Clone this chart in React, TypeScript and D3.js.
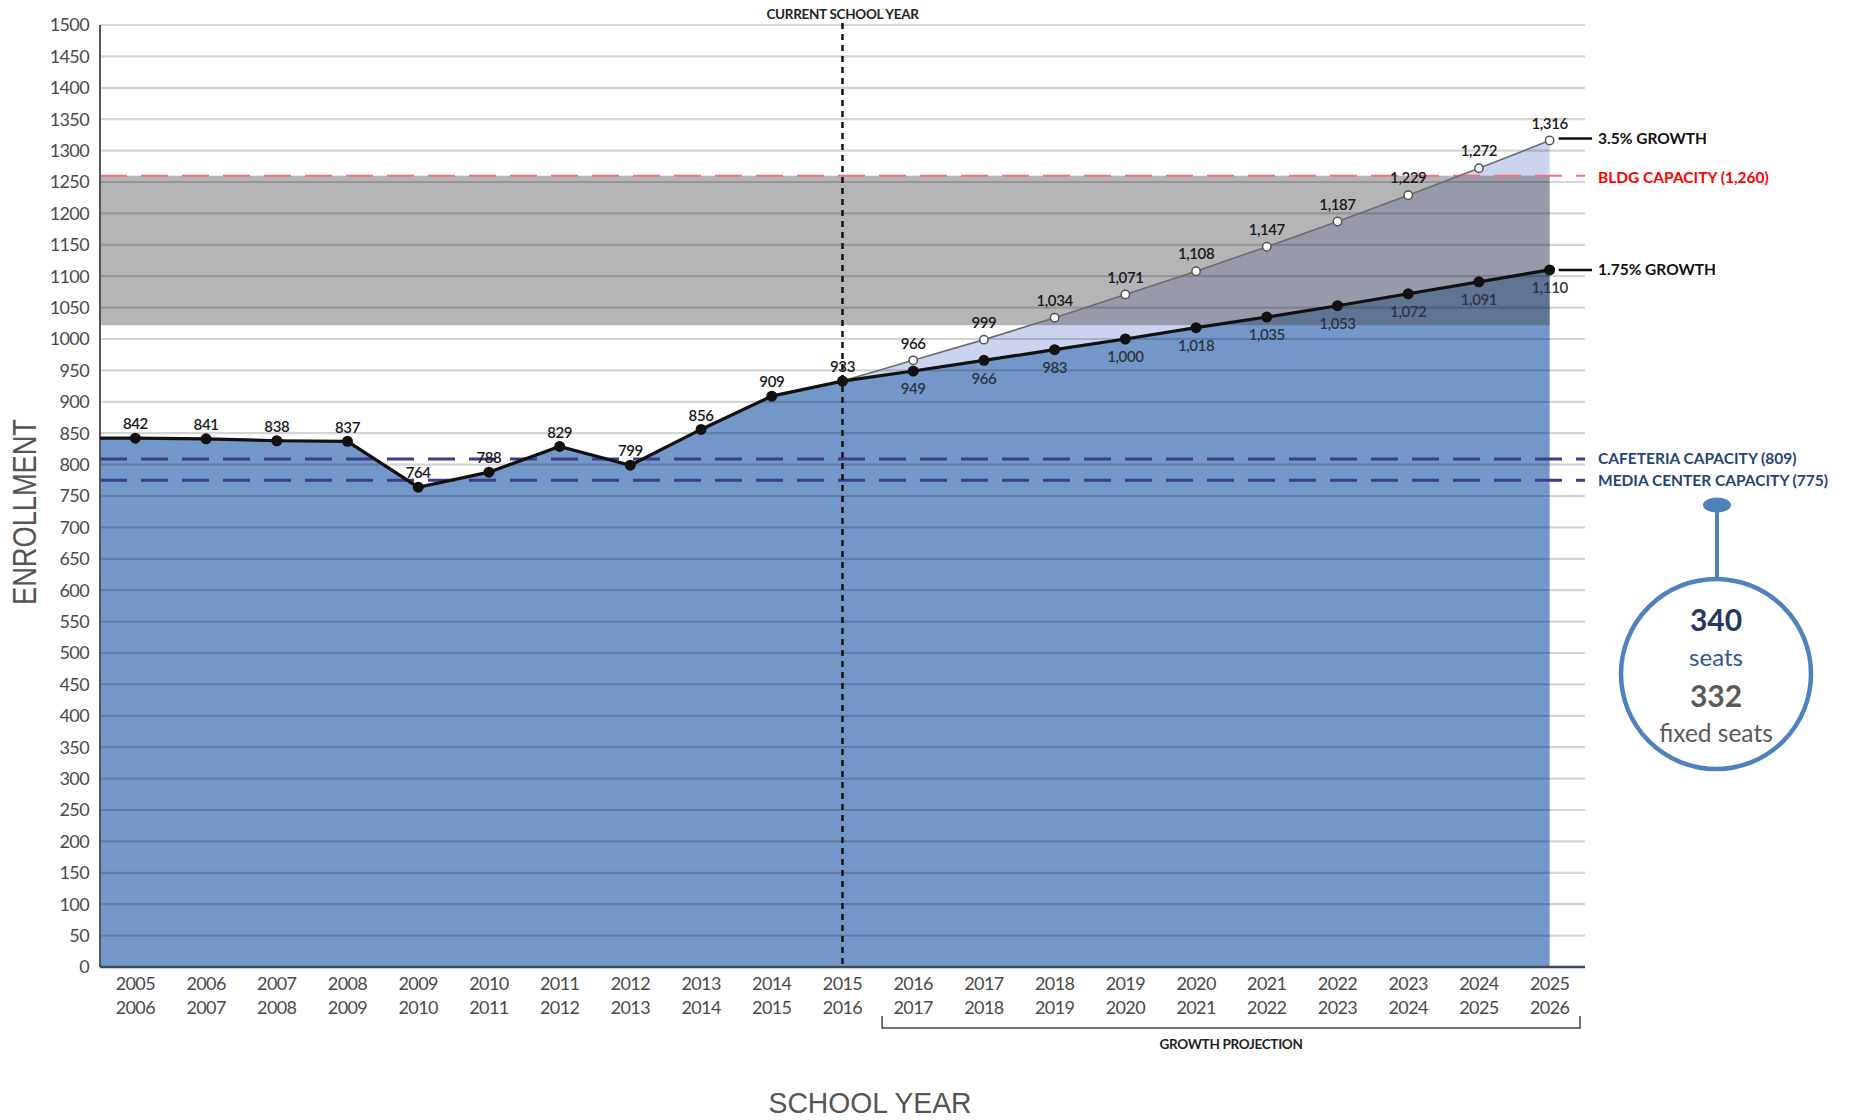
import React from 'react';
import * as d3 from 'd3';

// school years (start / end of each year)
const startYears = ['2005', '2006', '2007', '2008', '2009', '2010', '2011', '2012', '2013', '2014', '2015',
  '2016', '2017', '2018', '2019', '2020', '2021', '2022', '2023', '2024', '2025'];
const endYears = ['2006', '2007', '2008', '2009', '2010', '2011', '2012', '2013', '2014', '2015', '2016',
  '2017', '2018', '2019', '2020', '2021', '2022', '2023', '2024', '2025', '2026'];

// enrollment up to the current school year (2015-2016)
const actualEnrollment = [842, 841, 838, 837, 764, 788, 829, 799, 856, 909, 933];
// projections 2016-2017 .. 2025-2026
const growthLow = [949, 966, 983, 1000, 1018, 1035, 1053, 1072, 1091, 1110];   // 1.75%
const growthHigh = [966, 999, 1034, 1071, 1108, 1147, 1187, 1229, 1272, 1316]; // 3.5%

const bldgCapacity = 1260;
const bandFloor = 1022;
const cafeteriaCapacity = 809;
const mediaCenterCapacity = 775;

const W = 1853;
const H = 1120;
const left = 100;
const right = 1585;
const top = 25;
const bottom = 967;

const tickFont = 'Lato, "Open Sans", sans-serif';
const noteFont = 'Lato, "Open Sans", sans-serif';
const fmt = d3.format(',');

const App: React.FC = () => {
  const x = d3.scalePoint<string>().domain(startYears).range([left, right]).padding(0.5);
  const y = d3.scaleLinear().domain([0, 1500]).range([bottom, top]);
  const yTicks = y.ticks(30);

  const mainValues = actualEnrollment.concat(growthLow);
  const cur = actualEnrollment.length - 1;
  const lastYear = startYears[startYears.length - 1];
  const xLast = x(lastYear)!;
  const step = x.step();

  type P = { px: number; v: number };
  const mainPts: P[] = [{ px: left, v: mainValues[0] }].concat(
    mainValues.map((v, i) => ({ px: x(startYears[i])!, v }))
  );

  const area = d3.area<P>().x(d => d.px).y0(y(0)).y1(d => y(d.v));
  const line = d3.line<P>().x(d => d.px).y(d => y(d.v));

  const projYears = startYears.slice(cur);
  const highValues = [actualEnrollment[cur]].concat(growthHigh);
  const lowValues = [actualEnrollment[cur]].concat(growthLow);
  const spread = projYears.map((yr, i) => ({ px: x(yr)!, lo: lowValues[i], hi: highValues[i] }));
  const spreadArea = d3.area<{ px: number; lo: number; hi: number }>()
    .x(d => d.px).y0(d => y(d.lo)).y1(d => y(d.hi));
  const highPts: P[] = projYears.map((yr, i) => ({ px: x(yr)!, v: highValues[i] }));

  const xCur = x(startYears[cur])!;
  const bracketL = x(startYears[cur + 1])! - step * 0.44;
  const bracketR = xLast + step * 0.43;
  const noteX = 1598;
  const high = growthHigh[growthHigh.length - 1];
  const low = growthLow[growthLow.length - 1];

  return (
    <svg width={W} height={H} style={{ position: 'absolute', left: 0, top: 0, display: 'block', background: '#fff' }}>
      {/* main enrollment area */}
      <path d={area(mainPts)!} fill="#7497c9" />
      {/* spread between the two projections */}
      <path d={spreadArea(spread)!} fill="#ccd3ee" />
      {/* capacity band */}
      <rect x={left} y={y(bldgCapacity)} width={xLast - left} height={y(bandFloor) - y(bldgCapacity)}
        fill="rgba(65,65,65,0.39)" />

      {/* grid */}
      {yTicks.filter(t => t > 0).map(t => (
        <line key={t} x1={left} x2={right} y1={y(t)} y2={y(t)} stroke="rgba(0,0,0,0.17)" strokeWidth={2.2} />
      ))}

      {/* capacity lines */}
      <line x1={left} x2={right} y1={y(bldgCapacity)} y2={y(bldgCapacity)} stroke="#f07272" strokeWidth={2}
        strokeDasharray="27 14" />
      {[cafeteriaCapacity, mediaCenterCapacity].map(c => (
        <line key={c} x1={left} x2={right} y1={y(c)} y2={y(c)} stroke="#3b3d8e" strokeWidth={3}
          strokeDasharray="27 14" />
      ))}

      {/* axes */}
      <line x1={left} x2={left} y1={top} y2={bottom} stroke="#555" strokeWidth={2} />
      <line x1={left} x2={right} y1={bottom} y2={bottom} stroke="#3d4a5e" strokeWidth={2.5} />
      {yTicks.map(t => (
        <text key={t} x={left - 11} y={y(t)} dy="0.35em" textAnchor="end" fontFamily={tickFont}
          fontSize={18} fill="#4a4a4a" letterSpacing={-0.6}>{t}</text>
      ))}
      {startYears.map((yr, i) => (
        <text key={yr} x={x(yr)!} textAnchor="middle" fontFamily={tickFont} fontSize={18} fill="#4a4a4a"
          letterSpacing={-0.6}>
          <tspan x={x(yr)!} y={990}>{yr}</tspan>
          <tspan x={x(yr)!} y={1014}>{endYears[i]}</tspan>
        </text>
      ))}

      {/* current school year marker */}
      <line x1={xCur} x2={xCur} y1={top - 2} y2={bottom} stroke="#111" strokeWidth={2.5} strokeDasharray="6 5" />
      <text x={xCur} y={14} dy="0.35em" textAnchor="middle" fontFamily={noteFont} fontWeight={700} fontSize={13.5}
        fill="#222" letterSpacing={-0.3}>CURRENT SCHOOL YEAR</text>

      {/* 3.5% projection */}
      <path d={line(highPts)!} fill="none" stroke="#6d6d6d" strokeWidth={1.6} />
      {/* actual + 1.75% projection */}
      <path d={line(mainPts)!} fill="none" stroke="#111" strokeWidth={3.2} />
      {mainValues.map((v, i) => (
        <circle key={i} cx={x(startYears[i])!} cy={y(v)} r={5.5} fill="#111" />
      ))}
      {highPts.slice(1).map((d, i) => (
        <circle key={i} cx={d.px} cy={y(d.v)} r={4.2} fill="#fff" stroke="#555" strokeWidth={1.5} />
      ))}

      {/* value labels */}
      {actualEnrollment.map((v, i) => (
        <text key={i} x={x(startYears[i])!} y={y(v) - 14} dy="0.35em" textAnchor="middle" fontFamily={tickFont}
          fontWeight={600} fontSize={15} fill="#1a1a1a" letterSpacing={-0.4}>{fmt(v)}</text>
      ))}
      {growthLow.map((v, i) => (
        <text key={i} x={x(startYears[cur + 1 + i])!} y={y(v) + 18} dy="0.35em" textAnchor="middle"
          fontFamily={tickFont} fontWeight={600} fontSize={15} fill="#2e3442" letterSpacing={-0.4}>{fmt(v)}</text>
      ))}
      {growthHigh.map((v, i) => (
        <text key={i} x={x(startYears[cur + 1 + i])!} y={y(v) - 17} dy="0.35em" textAnchor="middle"
          fontFamily={tickFont} fontWeight={600} fontSize={15} fill="#1a1a1a" letterSpacing={-0.4}>{fmt(v)}</text>
      ))}

      {/* growth projection bracket */}
      <path d={`M${bracketL},${1016}V${1028}H${bracketR}V${1016}`} fill="none" stroke="#444" strokeWidth={1.5} />
      <text x={(bracketL + bracketR) / 2} y={1044} dy="0.35em" textAnchor="middle" fontFamily={noteFont}
        fontWeight={700} fontSize={13.5} fill="#222" letterSpacing={-0.3}>GROWTH PROJECTION</text>

      {/* right-hand notes */}
      <line x1={xLast + 9} x2={1592} y1={y(high) - 2} y2={y(high) - 2} stroke="#111" strokeWidth={2.5} />
      <text x={noteX} y={y(high) - 2} dy="0.35em" fontFamily={noteFont} fontWeight={700}
        fontSize={15.5} fill="#111">3.5% GROWTH</text>
      <text x={noteX} y={y(bldgCapacity) + 2} dy="0.35em" fontFamily={noteFont} fontWeight={700} fontSize={15.5}
        fill="#ff0000">BLDG CAPACITY (1,260)</text>
      <line x1={xLast + 9} x2={1592} y1={y(low)} y2={y(low)} stroke="#111" strokeWidth={2.5} />
      <text x={noteX} y={y(low)} dy="0.35em" fontFamily={noteFont} fontWeight={700}
        fontSize={15.5} fill="#111">1.75% GROWTH</text>
      <text x={noteX} y={y(cafeteriaCapacity)} dy="0.35em" fontFamily={noteFont} fontWeight={700} fontSize={15.5}
        fill="#23437a">CAFETERIA CAPACITY (809)</text>
      <text x={noteX} y={y(mediaCenterCapacity)} dy="0.35em" fontFamily={noteFont} fontWeight={700} fontSize={15.5}
        fill="#23437a">MEDIA CENTER CAPACITY (775)</text>

      {/* seats callout */}
      <ellipse cx={1717} cy={505} rx={14} ry={7.5} fill="#4f81bd" />
      <line x1={1717} x2={1717} y1={505} y2={580} stroke="#4f81bd" strokeWidth={4} />
      <circle cx={1716} cy={674} r={95} fill="#fff" stroke="#4f81bd" strokeWidth={4.5} />
      <text x={1716} y={620} dy="0.35em" textAnchor="middle" fontFamily={noteFont} fontWeight={700} fontSize={30}
        fill="#1f3864">340</text>
      <text x={1716} y={658} dy="0.35em" textAnchor="middle" fontFamily={noteFont} fontSize={24}
        fill="#2f5597">seats</text>
      <text x={1716} y={696} dy="0.35em" textAnchor="middle" fontFamily={noteFont} fontWeight={700} fontSize={30}
        fill="#595959">332</text>
      <text x={1716} y={733} dy="0.35em" textAnchor="middle" fontFamily={noteFont} fontSize={24.5}
        fill="#595959">fixed seats</text>

      {/* axis titles */}
      <text transform={`translate(24,${512}) rotate(-90)`} dy="0.35em" textAnchor="middle"
        fontFamily='"Liberation Sans", Arial, sans-serif' fontSize={33} fill="#555" textLength={186}
        lengthAdjust="spacingAndGlyphs">ENROLLMENT</text>
      <text x={870} y={1102} dy="0.35em" textAnchor="middle" fontFamily='"Liberation Sans", Arial, sans-serif'
        fontSize={30} fill="#555" textLength={203} lengthAdjust="spacingAndGlyphs">SCHOOL YEAR</text>
    </svg>
  );
};

export default App;
